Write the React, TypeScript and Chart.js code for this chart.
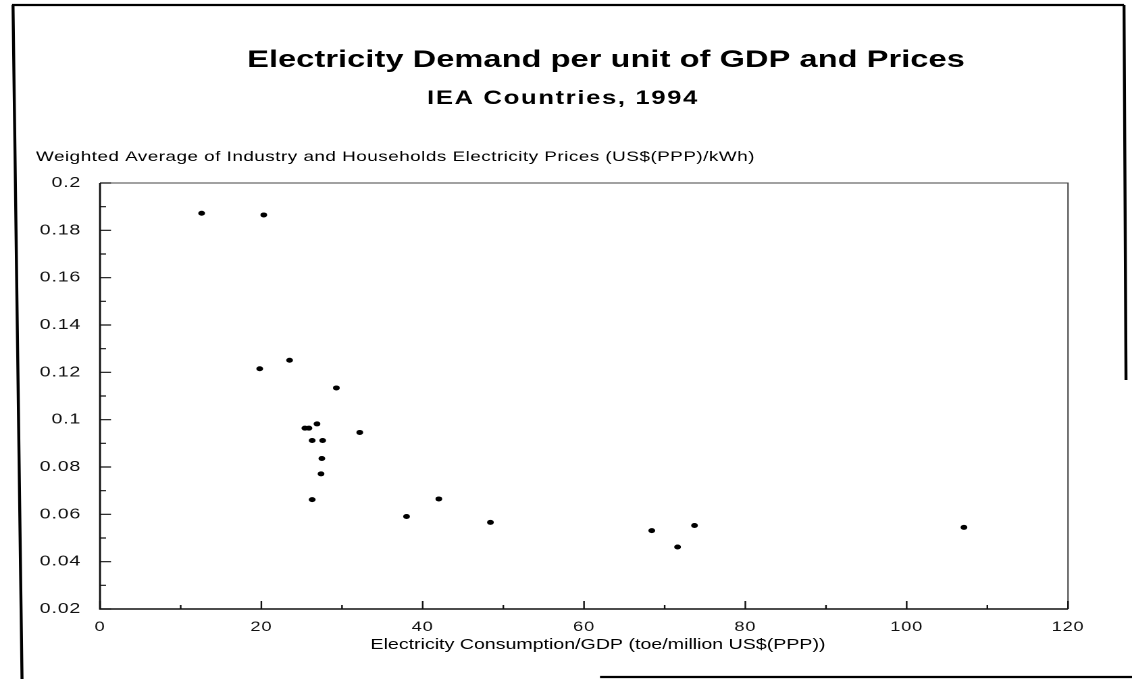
import React, { useEffect, useRef } from "react";
import { Chart, registerables } from "chart.js";

Chart.register(...registerables);

// ---- data ----
const xValues = [12.6, 20.3, 19.8, 23.5, 29.3, 26.9, 25.4, 25.9, 32.2, 26.3, 27.6, 27.5, 27.4, 26.3, 38.0, 42.0, 48.4, 68.4, 71.6, 73.7, 107.1];
const yValues = [0.1872, 0.1865, 0.1215, 0.1251, 0.1134, 0.0982, 0.0964, 0.0964, 0.0946, 0.0912, 0.0912, 0.0836, 0.0771, 0.0662, 0.0591, 0.0665, 0.0566, 0.0531, 0.0462, 0.0553, 0.0545];

const xTickValues = [0, 20, 40, 60, 80, 100, 120];
const xMinorTicks = [10, 30, 50, 70, 90, 110];
const yTickValues = [0.02, 0.04, 0.06, 0.08, 0.1, 0.12, 0.14, 0.16, 0.18, 0.2];
const yTickLabels = ["0.02", "0.04", "0.06", "0.08", "0.1", "0.12", "0.14", "0.16", "0.18", "0.2"];
const yMinorTicks = [0.03, 0.05, 0.07, 0.09, 0.11, 0.13, 0.15, 0.17, 0.19];

const TITLE = "Electricity Demand per unit of GDP and Prices";
const SUBTITLE = "IEA Countries, 1994";
const Y_TITLE = "Weighted Average of Industry and Households Electricity Prices (US$(PPP)/kWh)";
const X_TITLE = "Electricity Consumption/GDP (toe/million US$(PPP))";

// the scanned reference is stretched horizontally; draw narrower and stretch via CSS
const DISP_W = 1132;
const DISP_H = 679;
const INT_W = 838;
const S = DISP_W / INT_W;
const FONT = "'Liberation Sans', Arial, Helvetica, sans-serif";

const setLS = (ctx: any, v: string) => {
  try { ctx.letterSpacing = v; } catch (e) { /* ignore */ }
};

const decorPlugin = {
  id: "decor",
  beforeDraw(chart: any) {
    const ctx = chart.ctx;
    ctx.save();
    ctx.fillStyle = "#ffffff";
    ctx.fillRect(0, 0, chart.width, chart.height);
    ctx.restore();
    setLS(ctx, "0.6px");
  },
  afterDraw(chart: any) {
    const ctx = chart.ctx;
    const { left, right, top, bottom } = chart.chartArea;
    const xs = chart.scales.x;
    const ys = chart.scales.y;
    ctx.save();

    // top and right frame of plot: thinner, greyer
    ctx.strokeStyle = "#444";
    ctx.lineWidth = 1;
    ctx.beginPath();
    ctx.moveTo(left, top);
    ctx.lineTo(right, top);
    ctx.lineTo(right, bottom);
    ctx.stroke();

    // left and bottom axes
    ctx.strokeStyle = "#111";
    ctx.lineWidth = 1.4;
    ctx.beginPath();
    ctx.moveTo(left, top);
    ctx.lineTo(left, bottom);
    ctx.lineTo(right, bottom);
    ctx.stroke();

    // inward ticks
    ctx.lineWidth = 1.2;
    ctx.beginPath();
    yTickValues.forEach((v) => {
      const p = ys.getPixelForValue(v);
      ctx.moveTo(left, p);
      ctx.lineTo(left + 11 / S, p);
    });
    yMinorTicks.forEach((v) => {
      const p = ys.getPixelForValue(v);
      ctx.moveTo(left, p);
      ctx.lineTo(left + 6 / S, p);
    });
    xTickValues.forEach((v) => {
      const p = xs.getPixelForValue(v);
      ctx.moveTo(p, bottom);
      ctx.lineTo(p, bottom - 8);
    });
    xMinorTicks.forEach((v) => {
      const p = xs.getPixelForValue(v);
      ctx.moveTo(p, bottom);
      ctx.lineTo(p, bottom - 4);
    });
    ctx.stroke();

    // outer frame (scan border)
    ctx.strokeStyle = "#000";
    ctx.lineWidth = 2.2;
    ctx.beginPath();
    ctx.moveTo(12 / S, 5);
    ctx.lineTo(1124 / S, 5);
    ctx.moveTo(1124 / S, 5);
    ctx.lineTo(1126 / S, 380);
    ctx.moveTo(13 / S, 5);
    ctx.lineTo(22 / S, 679);
    ctx.moveTo(600 / S, 677);
    ctx.lineTo(1132 / S, 677);
    ctx.stroke();

    // texts
    ctx.fillStyle = "#000";
    ctx.textBaseline = "alphabetic";
    ctx.textAlign = "center";
    ctx.font = `bold 24px ${FONT}`;
    setLS(ctx, "0.1px");
    ctx.fillText(TITLE, 606 / S, 67);

    ctx.font = `bold 19px ${FONT}`;
    setLS(ctx, "1.2px");
    ctx.fillText(SUBTITLE, 563 / S, 104);

    ctx.textAlign = "left";
    ctx.font = `14px ${FONT}`;
    setLS(ctx, "0.35px");
    ctx.fillText(Y_TITLE, 36 / S, 161);

    ctx.textAlign = "center";
    ctx.font = `14.5px ${FONT}`;
    setLS(ctx, "0px");
    ctx.fillText(X_TITLE, 598 / S, 649);
    ctx.restore();
  },
};

export default function App() {
  const canvasRef = useRef<HTMLCanvasElement | null>(null);

  useEffect(() => {
    const canvas = canvasRef.current;
    if (!canvas) return;
    const chart = new Chart(canvas, {
      type: "scatter",
      data: {
        datasets: [
          {
            label: "IEA countries",
            data: xValues.map((x, i) => ({ x, y: yValues[i] })),
            backgroundColor: "#000",
            borderColor: "#000",
            borderWidth: 0,
            pointRadius: 2.5,
            pointHoverRadius: 2.5,
          },
        ],
      },
      options: {
        animation: false,
        responsive: false,
        devicePixelRatio: 2,
        events: [],
        layout: { padding: { left: 0, top: 183, right: INT_W - 1068 / S, bottom: 0 } },
        plugins: {
          legend: { display: false },
          tooltip: { enabled: false },
          title: { display: false },
        },
        scales: {
          x: {
            type: "linear",
            min: 0,
            max: 120,
            grid: { display: false, drawTicks: false },
            border: { display: false },
            afterBuildTicks: (scale: any) => {
              scale.ticks = xTickValues.map((v) => ({ value: v }));
            },
            afterFit: (scale: any) => {
              scale.height = DISP_H - 609;
            },
            ticks: {
              padding: 10,
              color: "#111",
              font: { family: FONT, size: 13.5 },
              maxRotation: 0,
              autoSkip: false,
              callback: (v: any) => String(v),
            },
          },
          y: {
            type: "linear",
            min: 0.02,
            max: 0.2,
            grid: { display: false, drawTicks: false },
            border: { display: false },
            afterBuildTicks: (scale: any) => {
              scale.ticks = yTickValues.map((v) => ({ value: v }));
            },
            afterFit: (scale: any) => {
              scale.width = 100 / S;
            },
            ticks: {
              padding: 14,
              color: "#111",
              font: { family: FONT, size: 14.5 },
              autoSkip: false,
              callback: (v: any) => {
                const i = yTickValues.findIndex((t) => Math.abs(t - v) < 1e-6);
                return i >= 0 ? yTickLabels[i] : "";
              },
            },
          },
        },
      },
      plugins: [decorPlugin],
    });
    return () => chart.destroy();
  }, []);

  return (
    <div style={{ position: "absolute", left: 0, top: 0, width: DISP_W, height: DISP_H, background: "#fff" }}>
      <canvas
        ref={canvasRef}
        width={INT_W}
        height={DISP_H}
        style={{ width: `${DISP_W}px`, height: `${DISP_H}px`, display: "block" }}
      />
    </div>
  );
}
